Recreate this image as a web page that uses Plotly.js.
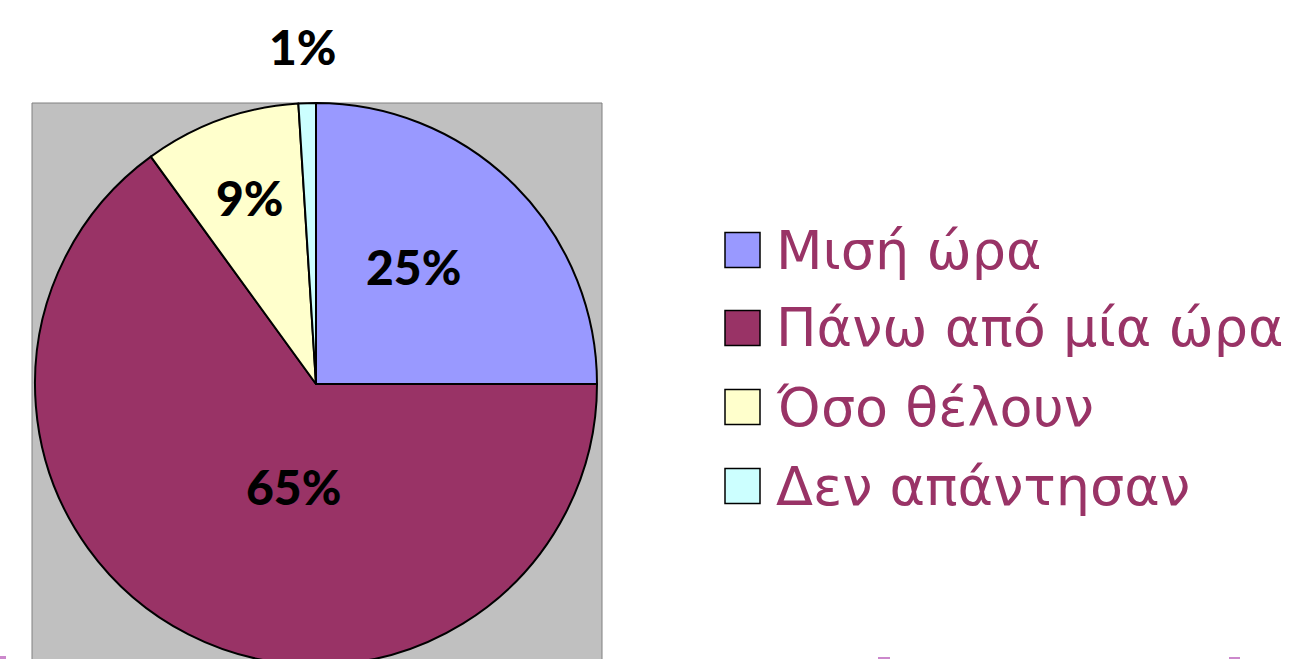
<!DOCTYPE html>
<html>
<head>
<meta charset="utf-8">
<script src="https://cdn.plot.ly/plotly-3.0.1.min.js"></script>
<style>
html,body{margin:0;padding:0;overflow:hidden;background:#fff;}
#chart{width:1292px;height:720px;}
</style>
</head>
<body>
<div id="chart"></div>
<script>
// ---- data ----
const categories = ["Μισή ώρα", "Πάνω από μία ώρα", "Όσο θέλουν", "Δεν απάντησαν"];
const values = [25, 65, 9, 1];
const colors = ["#9999ff", "#993366", "#ffffcc", "#ccffff"];

// ---- layout helpers (pixels -> paper) ----
const W = 1292, H = 720;
const px = x => x / W;
const py = y => 1 - y / H;

// label placement (pixel centres, as in the reference)
const labelPos = [[413, 266], [293, 486], [250, 197], [303, 46]];
// legend rows
const legendRows = [250, 328, 407, 486];

const trace = {
  type: "pie",
  labels: categories,
  values: values,
  sort: false,
  direction: "clockwise",
  rotation: 0,
  marker: {colors: colors, line: {color: "#000000", width: 2}},
  textinfo: "none",
  hoverinfo: "label+percent",
  showlegend: false,
  domain: {x: [px(35), px(597)], y: [py(665), py(103)]}
};

const shapes = [
  {type: "rect", xref: "paper", yref: "paper", layer: "below",
   x0: px(32), x1: px(602), y0: py(H + 10), y1: py(103),
   fillcolor: "#c0c0c0", line: {color: "#808080", width: 1}},
  // small pink fragments at the bottom edge
  {type: "rect", xref: "paper", yref: "paper", x0: px(0), x1: px(6), y0: py(660), y1: py(656),
   fillcolor: "#cc88cc", line: {width: 0}},
  {type: "rect", xref: "paper", yref: "paper", x0: px(878), x1: px(890), y0: py(660), y1: py(657),
   fillcolor: "#cc88cc", line: {width: 0}},
  {type: "rect", xref: "paper", yref: "paper", x0: px(1229), x1: px(1240), y0: py(660), y1: py(657),
   fillcolor: "#cc88cc", line: {width: 0}}
];

const annotations = [];
values.forEach((v, i) => {
  annotations.push({
    xref: "paper", yref: "paper", x: px(labelPos[i][0]), y: py(labelPos[i][1]),
    xanchor: "center", yanchor: "middle", showarrow: false,
    text: v + "%",
    font: {family: "Lato, 'Open Sans', sans-serif", size: 48, color: "#000000", weight: 900}
  });
});
categories.forEach((c, i) => {
  const yc = legendRows[i];
  shapes.push({type: "rect", xref: "paper", yref: "paper",
    x0: px(725), x1: px(760), y0: py(yc + 17.5), y1: py(yc - 17.5),
    fillcolor: colors[i], line: {color: "#000000", width: 1.5}});
  annotations.push({
    xref: "paper", yref: "paper", x: px(774), y: py(yc),
    xanchor: "left", yanchor: "middle", showarrow: false,
    text: c,
    font: {family: "'DejaVu Sans', Verdana, sans-serif", size: 54, color: "#993366"}
  });
});

const layout = {
  width: W, height: H,
  margin: {l: 0, r: 0, t: 0, b: 0},
  paper_bgcolor: "#ffffff",
  showlegend: false,
  shapes: shapes,
  annotations: annotations
};

Plotly.newPlot("chart", [trace], layout, {displayModeBar: false, staticPlot: true});
</script>
</body>
</html>
